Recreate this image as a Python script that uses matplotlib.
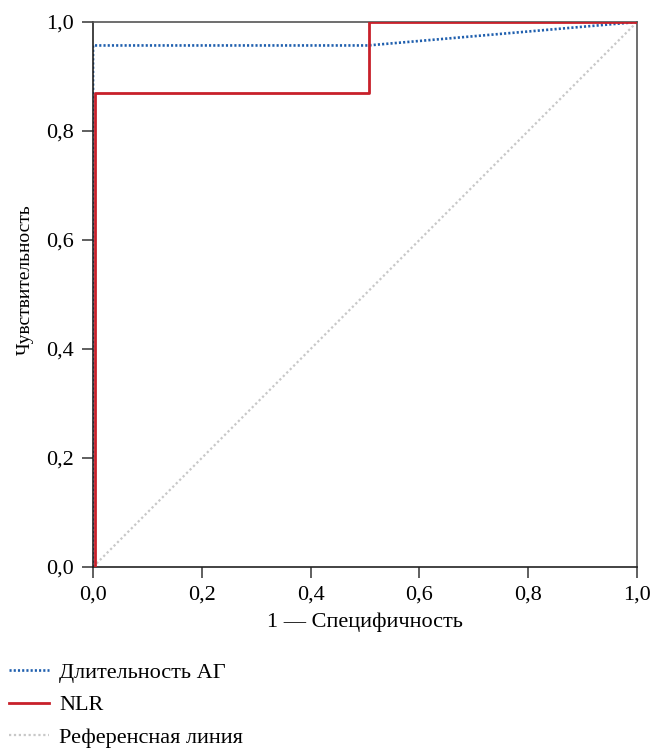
import matplotlib.pyplot as plt
from matplotlib.lines import Line2D

plt.rcParams['font.family'] = ['Liberation Serif', 'DejaVu Serif']

# ROC curve points (1 - specificity, sensitivity)
ag_fpr = [0.0, 0.0, 0.505, 1.0]
ag_tpr = [0.0, 0.957, 0.957, 1.0]
nlr_fpr = [0.004, 0.004, 0.507, 0.507, 1.0]
nlr_tpr = [0.0, 0.87, 0.87, 1.0, 1.0]
ref_xy = [0.0, 1.0]

ticks = [0.0, 0.2, 0.4, 0.6, 0.8, 1.0]
tick_labels = [f"{t:.1f}".replace('.', ',') for t in ticks]

BLUE = "#1f5fae"
RED = "#c8202a"
GREY = "#c8c8c8"
FS = 16

fig = plt.figure(figsize=(6.55, 7.49), dpi=100)
ax = fig.add_axes([0.142, 0.243, 0.8305, 0.7276])

ax.plot(ref_xy, ref_xy, color=GREY, lw=1.6, ls=(0, (1, 1.2)), zorder=1)
ax.plot(ag_fpr, ag_tpr, color=BLUE, lw=1.9, ls=(0, (0.8, 0.8)), zorder=2)
ax.plot(nlr_fpr, nlr_tpr, color=RED, lw=2.0, zorder=3)

ax.set_xlim(0, 1)
ax.set_ylim(0, 1)
ax.set_xticks(ticks)
ax.set_xticklabels(tick_labels)
ax.set_yticks(ticks)
ax.set_yticklabels(tick_labels)
ax.tick_params(labelsize=FS, direction='out', length=8, width=1.2, color='#444444', pad=5)
ax.tick_params(axis='y', pad=6)
for s in ax.spines.values():
    s.set_color('#555555')
    s.set_linewidth(1.2)
ax.spines['left'].set_color('#222222')
ax.spines['bottom'].set_color('#222222')

ax.set_xlabel("1 — Специфичность", fontsize=FS, labelpad=6)
ax.set_ylabel("Чувствительность", fontsize=14)
ax.yaxis.set_label_coords(-0.108, 0.528)

handles = [
    Line2D([], [], color=BLUE, lw=1.9, ls=(0, (0.8, 0.8))),
    Line2D([], [], color=RED, lw=2.0),
    Line2D([], [], color=GREY, lw=1.6, ls=(0, (1, 1.2))),
]
labels = ["Длительность АГ", "NLR", "Референсная линия"]
fig.legend(handles, labels, loc='upper left', bbox_to_anchor=(0.0, 0.128),
           frameon=False, fontsize=FS, handlelength=1.8, handletextpad=0.45,
           labelspacing=0.55, borderaxespad=0.0)

fig.savefig("out.png", dpi=100)
